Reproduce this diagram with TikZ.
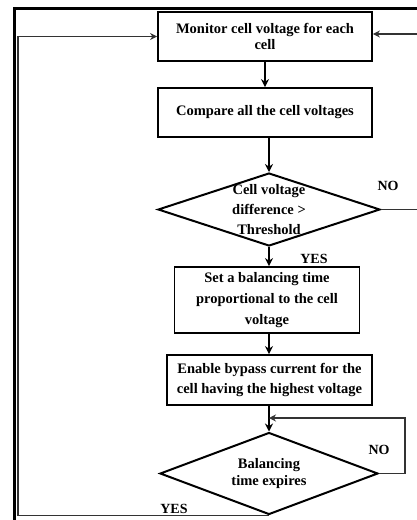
\documentclass[tikz,border=0pt]{standalone}
\usepackage{fontspec}
\setmainfont{Liberation Serif}
\usetikzlibrary{shapes.geometric,arrows.meta}
\begin{document}
\begin{tikzpicture}[x=1pt,y=-1pt,
  txt/.style={font=\bfseries\fontsize{14.5}{18}\selectfont, align=center, inner sep=0pt},
  procbox/.style={draw, line width=1.8pt, rectangle, inner sep=0pt, txt},
  decision/.style={draw, line width=2pt, diamond, inner sep=0pt},
  flow/.style={line width=2.8pt, -{Stealth[length=8pt,width=8pt]}},
  back/.style={line width=1.6pt, draw=black!80, -{Stealth[length=7pt,width=7pt]}},
  plain/.style={line width=1.6pt, draw=black!80},
  lbl/.style={font=\bfseries\fontsize{14}{16}\selectfont, inner sep=0pt}
]
\useasboundingbox (0,0) rectangle (417,520);
% frame border
\draw[line width=3pt] (14.5,520) -- (14.5,8.5) -- (417,8.5);

\node[procbox, minimum width=214pt, minimum height=49pt, font=\bfseries\fontsize{14.5}{16}\selectfont] (b1) at (265,36.5) {Monitor cell voltage for each\\cell};
\node[procbox, minimum width=214pt, minimum height=49pt] (b2) at (265,112.5) {Compare all the cell voltages};
\node[decision, minimum width=222pt, minimum height=73pt] (d1) at (269,209.5) {};
\node[txt, font=\bfseries\fontsize{14.5}{20}\selectfont] (t1) at (d1) {Cell voltage\\difference >\\Threshold};
\node[procbox, minimum width=185pt, minimum height=66pt, font=\bfseries\fontsize{14.5}{21}\selectfont] (b3) at (267,300) {Set a balancing time\\proportional to the cell\\voltage};
\node[procbox, minimum width=205pt, minimum height=50pt, font=\bfseries\fontsize{14.5}{20}\selectfont] (b4) at (269.5,380) {Enable bypass current for the\\cell having the highest voltage};
\node[decision, minimum width=218pt, minimum height=82pt] (d2) at (269,473.5) {};
\node[txt, font=\bfseries\fontsize{14.5}{17}\selectfont] (t2) at (d2) {Balancing\\time expires};

% labels
\node[lbl] (no1) at (388,186) {NO};
\node[lbl] (yes1) at (314,259) {YES};
\node[lbl] (no2) at (379,450) {NO};
\node[lbl] (yes2) at (174,509) {YES};

% helper coordinates
\coordinate (rin) at (417,34);
\coordinate (rout) at (417,209.5);
\coordinate (loopR) at (405,418);
\coordinate (fbL) at (18,515.5);

% main flow
\draw[flow] (b1.south -| 265,0) -- (b2.north -| 265,0);
\draw[flow] (b2.south -| 269,0) -- (d1.north);
\draw[flow] (d1.south) -- (b3.north -| d1.south);
\draw[flow] (b3.south -| d1.south) -- (b4.north -| d1.south);
\draw[flow] (b4.south -| d2.north) -- (d2.north);

% NO branch from first decision, exits to the right
\draw[plain] (d1.east) -- (rout);
% arrow from the right into the first box
\draw[back, line width=1.1pt] (rin) -- (rin -| b1.east);

% NO loop of second decision
\draw[back] (d2.east) -- (d2.east -| loopR) -- (loopR) -- (loopR -| d2.north);

% YES feedback to top
\draw[back] (d2.south) -- (d2.south |- fbL) -- (fbL) -- (fbL |- b1.west) -- (b1.west);
\end{tikzpicture}
\end{document}
